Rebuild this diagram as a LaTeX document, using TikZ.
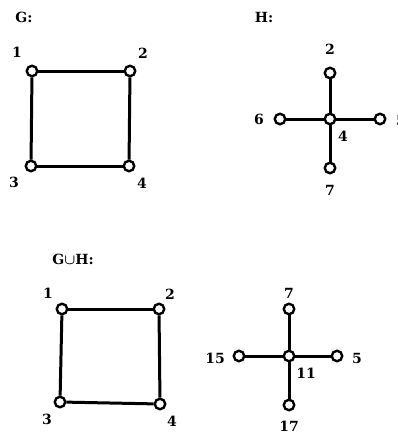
\documentclass[tikz,border=0pt]{standalone}
\usepackage{fontspec}
\newfontfamily\lblfont{DejaVu Serif}
\begin{document}
\begin{tikzpicture}[x=1pt,y=-1pt,
  vtx/.style={circle,draw=black,fill=white,line width=2.4pt,minimum size=10.5pt,inner sep=0pt},
  edge/.style={line width=3pt},
  lbl/.style={font=\lblfont\bfseries\fontsize{14}{14}\selectfont,inner sep=0pt},
  ttl/.style={font=\lblfont\bfseries\fontsize{14}{14}\selectfont,inner sep=0pt}]
\useasboundingbox (0,0) rectangle (397,436);
% G
\node[ttl] (tG) at (24,17) {G:};
\node[vtx] (g1) at (32,71) {};
\node[vtx] (g2) at (130,71) {};
\node[vtx] (g3) at (31,166) {};
\node[vtx] (g4) at (129,166) {};
\draw[edge] (g1) -- (g2);
\draw[edge] (g2) -- (g4);
\draw[edge] (g4) -- (g3);
\draw[edge] (g3) -- (g1);
\node[lbl] (lg1) at (17,52) {1};
\node[lbl] (lg2) at (143,53) {2};
\node[lbl] (lg3) at (14,182) {3};
\node[lbl] (lg4) at (142,183) {4};
% H
\node[ttl] (tH) at (264,17) {H:};
\node[vtx] (h4) at (330,119) {};
\node[vtx] (h2) at (330,73) {};
\node[vtx] (h6) at (280,119) {};
\node[vtx] (h5) at (380,119) {};
\node[vtx] (h7) at (330,168) {};
\draw[edge] (h2) -- (h4);
\draw[edge] (h6) -- (h4);
\draw[edge] (h5) -- (h4);
\draw[edge] (h7) -- (h4);
\node[lbl] (lh2) at (330,49) {2};
\node[lbl] (lh6) at (259,119) {6};
\node[lbl] (lh4) at (343,136) {4};
\node[lbl] (lh7) at (330,190) {7};
\node[lbl] (lh5) at (401,120) {5};
% G union H
\node[ttl] (tGH) at (73,259) {G{\boldmath$\cup$}H:};
\node[vtx] (u1) at (62,309) {};
\node[vtx] (u2) at (159,309) {};
\node[vtx] (u3) at (60,402) {};
\node[vtx] (u4) at (160,404) {};
\draw[edge] (u1) -- (u2);
\draw[edge] (u2) -- (u4);
\draw[edge] (u4) -- (u3);
\draw[edge] (u3) -- (u1);
\node[lbl] (lu1) at (48,293) {1};
\node[lbl] (lu2) at (170,294) {2};
\node[lbl] (lu3) at (47,419) {3};
\node[lbl] (lu4) at (172,421) {4};
\node[vtx] (u11) at (289,356) {};
\node[vtx] (u7) at (289,309) {};
\node[vtx] (u15) at (239,356) {};
\node[vtx] (u5) at (337,356) {};
\node[vtx] (u17) at (289,405) {};
\draw[edge] (u7) -- (u11);
\draw[edge] (u15) -- (u11);
\draw[edge] (u5) -- (u11);
\draw[edge] (u17) -- (u11);
\node[lbl] (lu7) at (289,293) {7};
\node[lbl] (lu15) at (215,358) {15};
\node[lbl] (lu5) at (357,358) {5};
\node[lbl] (lu11) at (306,373) {11};
\node[lbl] (lu17) at (289,426) {17};
\end{tikzpicture}
\end{document}
